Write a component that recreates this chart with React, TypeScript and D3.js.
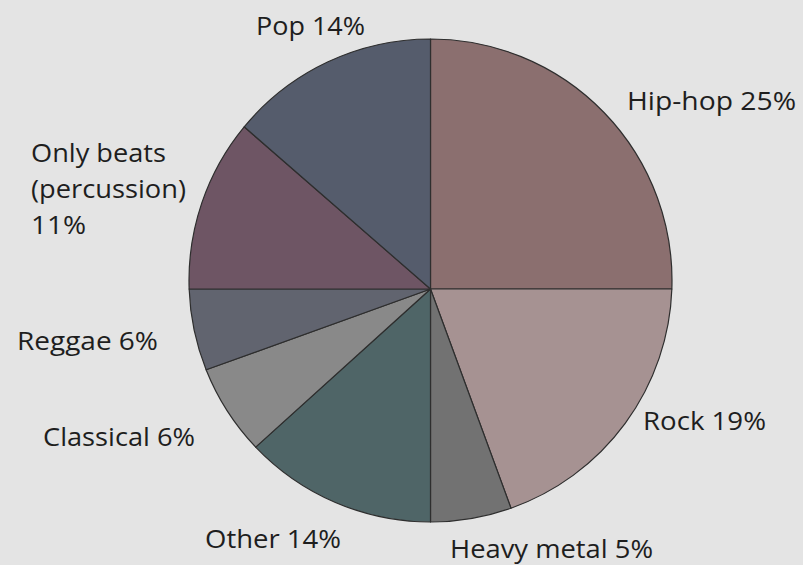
import React from "react";
import * as d3 from "d3";

// Data (share of the circle drawn for each genre)
const genres = ["Hip-hop", "Rock", "Heavy metal", "Other", "Classical", "Reggae", "Only beats (percussion)", "Pop"];
const shares = [25, 19.4, 5.6, 13.3, 6.2, 5.5, 11.4, 13.6];
const labelLines = [
  ["Hip-hop 25%"],
  ["Rock 19%"],
  ["Heavy metal 5%"],
  ["Other 14%"],
  ["Classical 6%"],
  ["Reggae 6%"],
  ["Only beats", "(percussion)", "11%"],
  ["Pop 14%"],
];

// Styles / layout
const colors = ["#8b6f6f", "#a69292", "#727272", "#4f6567", "#898989", "#61646f", "#6e5564", "#555c6c"];
const labelLayout = [
  { x: 627, y: 110, w: [169] },
  { x: 643, y: 430, w: [123] },
  { x: 450, y: 558, w: [203] },
  { x: 205, y: 548, w: [136] },
  { x: 43, y: 446, w: [152] },
  { x: 17, y: 350, w: [141] },
  { x: 31, y: 162, w: [135, 155, 55] },
  { x: 256, y: 35, w: [109] },
];

const W = 803;
const H = 565;
const CX = 430.5;
const CY = 280.5;
const R = 241.5;
const VERTEX_DY = 8.5; // slice vertex sits slightly below circle centre

function rayPoint(theta: number) {
  // ray from vertex (0, d) in direction (sin, -cos); circle radius R at origin
  const d = VERTEX_DY;
  const c = Math.cos(theta);
  const t = d * c + Math.sqrt(d * d * c * c - d * d + R * R);
  return [Math.sin(theta) * t, d - c * t];
}

export default function App() {
  const pie = d3.pie<number>().sort(null).value((v) => v).startAngle(0).endAngle(2 * Math.PI);
  const arcs = pie(shares);

  const slicePath = (a0: number, a1: number) => {
    const p0 = rayPoint(a0);
    const p1 = rayPoint(a1);
    const path = d3.path();
    path.moveTo(0, VERTEX_DY);
    path.lineTo(p0[0], p0[1]);
    const s0 = Math.atan2(p0[1], p0[0]);
    let s1 = Math.atan2(p1[1], p1[0]);
    while (s1 < s0) s1 += 2 * Math.PI;
    path.arc(0, 0, R, s0, s1, false);
    path.closePath();
    return path.toString();
  };

  return (
    <svg
      width={W}
      height={H}
      style={{ position: "fixed", left: 0, top: 0, background: "#e4e4e4" }}
      fontFamily="'Open Sans', 'Noto Sans', sans-serif"
    >
      <rect x={0} y={0} width={W} height={H} fill="#e4e4e4" />
      <g transform={`translate(${CX},${CY})`}>
        {arcs.map((a, i) => (
          <path
            key={genres[i]}
            d={slicePath(a.startAngle, a.endAngle)}
            fill={colors[i]}
            stroke="#2e2e2e"
            strokeWidth={1.2}
            strokeLinejoin="round"
          />
        ))}
      </g>
      {labelLines.map((lines, i) =>
        lines.map((line, j) => (
          <text
            key={`${i}-${j}`}
            x={labelLayout[i].x}
            y={labelLayout[i].y + j * 36}
            fontSize={25}
            fill="#1e1e1e"
            textLength={labelLayout[i].w[j]}
            lengthAdjust="spacingAndGlyphs"
          >
            {line}
          </text>
        ))
      )}
    </svg>
  );
}
